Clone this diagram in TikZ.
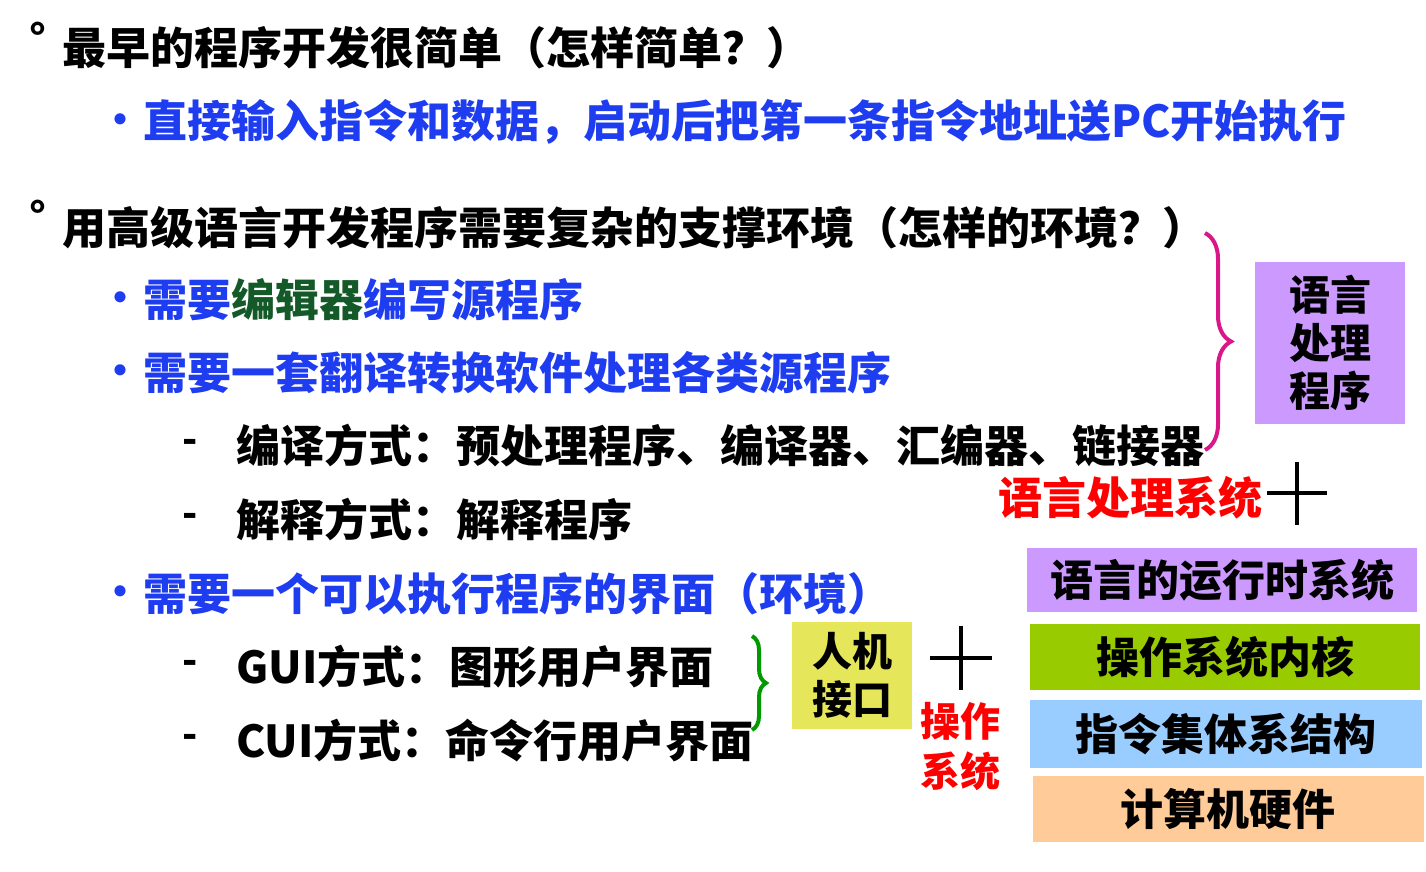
\documentclass[tikz,border=0pt]{standalone}
\usepackage{fontspec}
\newfontfamily\cjk{Noto Sans CJK SC}
\usetikzlibrary{decorations.pathreplacing}
\definecolor{tblue}{RGB}{30,60,240}
\definecolor{tgreen}{RGB}{20,90,40}
\definecolor{pbox}{RGB}{204,153,255}
\definecolor{gbox}{RGB}{153,204,0}
\definecolor{bbox}{RGB}{153,204,255}
\definecolor{obox}{RGB}{255,204,153}
\definecolor{ybox}{RGB}{230,230,90}
\tikzset{
  txt/.style={anchor=west,inner sep=0pt,font=\cjk\bfseries\fontsize{44}{50}\selectfont},
  bul/.style={anchor=center,inner sep=0pt,font=\cjk\bfseries\fontsize{40}{40}\selectfont},
  layer/.style={draw=none,minimum height=64pt,inner sep=0pt,font=\cjk\bfseries\fontsize{43}{48}\selectfont},
  plus/.style={line width=4pt}
}
\begin{document}
\begin{tikzpicture}[x=1pt,y=-1pt]
\useasboundingbox (0,0) rectangle (1426,872);
\node[bul] (m1) at (38,38) {°};
\node[txt] (l1) at (62,48) {最早的程序开发很简单（怎样简单？）};
\node[bul,text=tblue] (b1) at (120,124) {•};
\node[txt,text=tblue] (l2) at (143,122) {直接输入指令和数据，启动后把第一条指令地址送PC开始执行};
\node[bul] (m2) at (38,216) {°};
\node[txt] (l3) at (62,228) {用高级语言开发程序需要复杂的支撑环境（怎样的环境？）};
\node[bul,text=tblue] (b2) at (120,302) {•};
\node[txt,text=tblue] (l4) at (143,300) {需要\textcolor{tgreen}{编辑器}编写源程序};
\node[bul,text=tblue] (b3) at (120,375) {•};
\node[txt,text=tblue] (l5) at (143,373) {需要一套翻译转换软件处理各类源程序};
\node[bul] (d1) at (190,446) {-};
\node[txt] (l6) at (236,446) {编译方式：预处理程序、编译器、汇编器、链接器};
\node[bul] (d2) at (190,520) {-};
\node[txt] (l7) at (236,520) {解释方式：解释程序};
\node[bul,text=tblue] (b4) at (120,596) {•};
\node[txt,text=tblue] (l8) at (143,594) {需要一个可以执行程序的界面（环境）};
\node[bul] (d3) at (190,667) {-};
\node[txt] (l9) at (236,667) {GUI方式：图形用户界面};
\node[bul] (d4) at (190,741) {-};
\node[txt] (l10) at (236,741) {CUI方式：命令行用户界面};
% language processing
\coordinate (br1a) at (1205,233);
\coordinate (br1b) at (1205,450);
\draw[magenta!80!violet,line width=4pt,decorate,decoration={brace,amplitude=26pt,aspect=0.5}] (br1a) -- (br1b);
\node[fill=pbox,minimum width=150pt,minimum height=162pt,inner sep=0pt,align=center,font=\cjk\bfseries\fontsize{41}{48}\selectfont] (lp) at (1330,343) {语言\\处理\\程序};
\node[txt,anchor=center,text=red] (lps) at (1130,498) {语言处理系统};
\coordinate (p1a) at (1267,493); \coordinate (p1b) at (1327,493);
\coordinate (p1c) at (1297,462); \coordinate (p1d) at (1297,525);
\draw[plus] (p1a) -- (p1b); \draw[plus] (p1c) -- (p1d);
% layers
\node[layer,fill=pbox,minimum width=390pt] (rt) at (1222,580) {语言的运行时系统};
\node[layer,fill=gbox,minimum width=390pt,minimum height=66pt] (os) at (1225,657) {操作系统内核};
\node[layer,fill=bbox,minimum width=392pt,minimum height=68pt] (isa) at (1226,734) {指令集体系结构};
\node[layer,fill=obox,minimum width=391pt,minimum height=66pt] (hw) at (1228,809) {计算机硬件};
% human machine interface
\draw[green!60!black,line width=4pt,decorate,decoration={brace,amplitude=14pt}] (752,636) coordinate (br2a) -- (752,730) coordinate (br2b);
\node[fill=ybox,minimum width=120pt,minimum height=107pt,inner sep=0pt,align=center,font=\cjk\bfseries\fontsize{40}{48}\selectfont] (hmi) at (852,675) {人机\\接口};
\coordinate (p2a) at (930,658); \coordinate (p2b) at (992,658);
\coordinate (p2c) at (961,626); \coordinate (p2d) at (961,690);
\draw[plus] (p2a) -- (p2b); \draw[plus] (p2c) -- (p2d);
\node[align=center,text=red,inner sep=0pt,font=\cjk\bfseries\fontsize{40}{50}\selectfont] (ost) at (960,747) {操作\\系统};
\end{tikzpicture}
\end{document}
